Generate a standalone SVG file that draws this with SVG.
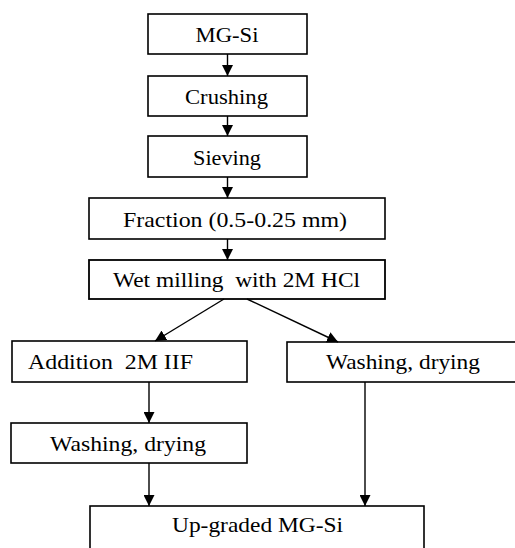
<svg xmlns="http://www.w3.org/2000/svg" width="515" height="548" viewBox="0 0 515 548">
<defs>
<marker id="ah" markerWidth="11" markerHeight="11" refX="11" refY="5.5" orient="auto" markerUnits="userSpaceOnUse">
<path d="M0,0 L11,5.5 L0,11 Z" fill="#000"/>
</marker>
</defs>
<style>
rect{fill:#fff;stroke:#000;stroke-width:1.6}
text{font-size:21px;fill:#000}
.c{text-anchor:middle}
.conn line{stroke:#000;stroke-width:1.4;marker-end:url(#ah)}
</style>
<rect x="0" y="0" width="515" height="548" style="stroke:none"/>
<g font-family="Liberation Serif, Times New Roman, serif">
<g id="n1"><rect x="148" y="14" width="159" height="40"/><text class="c" x="227" y="42" textLength="63" lengthAdjust="spacingAndGlyphs">MG-Si</text></g>
<g id="n2"><rect x="148" y="76" width="159" height="40"/><text class="c" x="226.5" y="104" textLength="83" lengthAdjust="spacingAndGlyphs">Crushing</text></g>
<g id="n3"><rect x="148" y="136" width="159" height="41"/><text class="c" x="227" y="165" textLength="68" lengthAdjust="spacingAndGlyphs">Sieving</text></g>
<g id="n4"><rect x="89" y="198" width="296" height="41"/><text class="c" x="235" y="227" textLength="224" lengthAdjust="spacingAndGlyphs">Fraction (0.5-0.25 mm)</text></g>
<g id="n5"><rect x="89" y="260" width="296" height="39" style="stroke-width:1.8"/><text class="c" x="236.5" y="287" xml:space="preserve" textLength="247" lengthAdjust="spacingAndGlyphs">Wet milling  with 2M HCl</text></g>
<g id="n6"><rect x="12" y="341" width="235" height="41"/><text x="28" y="369" xml:space="preserve" textLength="165" lengthAdjust="spacingAndGlyphs">Addition  2M IIF</text></g>
<g id="n7"><rect x="287" y="342" width="240" height="40"/><text class="c" x="403" y="369" textLength="154" lengthAdjust="spacingAndGlyphs">Washing, drying</text></g>
<g id="n8"><rect x="11" y="423" width="236" height="40"/><text class="c" x="128" y="451" textLength="156" lengthAdjust="spacingAndGlyphs">Washing, drying</text></g>
<g id="n9"><rect x="90" y="506" width="334" height="60"/><text class="c" x="257.5" y="532" textLength="171" lengthAdjust="spacingAndGlyphs">Up-graded MG-Si</text></g>
</g>
<g class="conn" id="connectors">
<line x1="227.5" y1="54" x2="227.5" y2="76"/>
<line x1="227.5" y1="116" x2="227.5" y2="136"/>
<line x1="227.5" y1="177" x2="227.5" y2="198"/>
<line x1="227.5" y1="239" x2="227.5" y2="260"/>
<line x1="224" y1="299" x2="155" y2="341"/>
<line x1="247" y1="299" x2="338" y2="342"/>
<line x1="149" y1="382" x2="149" y2="423"/>
<line x1="149" y1="463" x2="149" y2="506"/>
<line x1="365" y1="382" x2="365" y2="506"/>
</g>
</svg>
